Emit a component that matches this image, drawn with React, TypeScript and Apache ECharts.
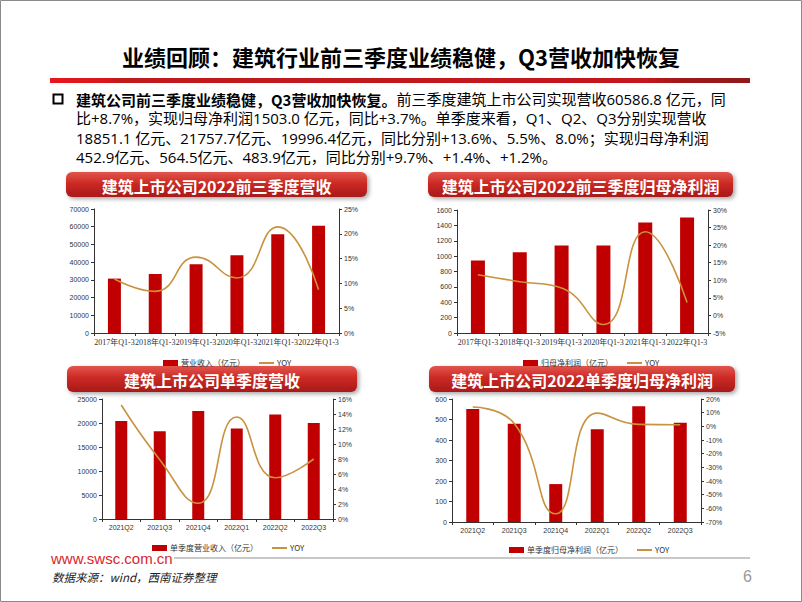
import React, { useEffect, useRef } from "react";
import * as echarts from "echarts";

const cumCats = ["2017年Q1-3", "2018年Q1-3", "2019年Q1-3", "2020年Q1-3", "2021年Q1-3", "2022年Q1-3"];
const cumRevenue = [30700, 33300, 38800, 43900, 55800, 60586.8];
const cumRevenueYoy = [10.9, 8.4, 15.3, 11.1, 21.4, 8.7];
const cumProfit = [943, 1051, 1137, 1137, 1436, 1503.0];
const cumProfitYoy = [11.6, 9.6, 7.8, -2.6, 23.8, 3.7];
const qCats = ["2021Q2", "2021Q3", "2021Q4", "2022Q1", "2022Q2", "2022Q3"];
const qRevenue = [20400, 18300, 22500, 18851.1, 21757.7, 19996.4];
const qRevenueYoy = [15.2, 7.9, 2.1, 13.6, 5.5, 8.0];
const qProfit = [551, 479, 185, 452.9, 564.5, 483.9];
const qProfitYoy = [14.1, 2.0, -64.0, 9.7, 1.4, 1.2];

const barNames = ["营业收入（亿元）", "归母净利润（亿元）", "单季度营业收入（亿元）", "单季度归母净利润（亿元）"];
const bannerTitles = [
  "建筑上市公司2022前三季度营收",
  "建筑上市公司2022前三季度归母净利润",
  "建筑上市公司单季度营收",
  "建筑上市公司2022单季度归母净利润",
];
const mainTitle = "业绩回顾：建筑行业前三季度业绩稳健，Q3营收加快恢复";
const bulletBold = "建筑公司前三季度业绩稳健，Q3营收加快恢复。";
const bulletLines = [
  "前三季度建筑上市公司实现营收60586.8 亿元，同",
  "比+8.7%，实现归母净利润1503.0 亿元，同比+3.7%。单季度来看，Q1、Q2、Q3分别实现营收",
  "18851.1 亿元、21757.7亿元、19996.4亿元，同比分别+13.6%、5.5%、8.0%；实现归母净利润",
  "452.9亿元、564.5亿元、483.9亿元，同比分别+9.7%、+1.4%、+1.2%。",
];
const footerUrl = "www.swsc.com.cn";
const footerSource = "数据来源：wind，西南证券整理";
const pageNo = "6";

const CJK = '"Noto Sans CJK SC", "Liberation Sans", sans-serif';
const BODY = '"Open Sans", "Noto Sans CJK SC", sans-serif';
const BAR = "#C00000";
const LINE = "#C9923E";

export default function App() {
  const ref = useRef<HTMLDivElement>(null);
  useEffect(() => {
    if (!ref.current) return;
    const chart = echarts.init(ref.current, undefined, { renderer: "svg" });

    const grids = [
      { left: 94, top: 209, width: 245, height: 124 },
      { left: 457, top: 210, width: 251, height: 123 },
      { left: 102, top: 399, width: 231, height: 120 },
      { left: 452, top: 399, width: 249, height: 123 },
    ];
    const cats = [cumCats, cumCats, qCats, qCats];
    const bars = [cumRevenue, cumProfit, qRevenue, qProfit];
    const lines = [cumRevenueYoy, cumProfitYoy, qRevenueYoy, qProfitYoy];
    const leftAx = [
      { min: 0, max: 70000, interval: 10000 },
      { min: 0, max: 1600, interval: 200 },
      { min: 0, max: 25000, interval: 5000 },
      { min: 0, max: 600, interval: 100 },
    ];
    const rightAx = [
      { min: 0, max: 25, interval: 5 },
      { min: -5, max: 30, interval: 5 },
      { min: 0, max: 16, interval: 2 },
      { min: -70, max: 20, interval: 10 },
    ];
    const barW = [13, 14, 12, 13];
    const legendPos = [
      { left: 158, top: 354 },
      { left: 518, top: 354 },
      { left: 147, top: 539 },
      { left: 504, top: 541 },
    ];

    const axisLine = { show: true, lineStyle: { color: "#333", width: 1 } };
    const axisTick = { show: true, length: 3, lineStyle: { color: "#333" } };

    const xAxis = cats.map((c, i) => ({
      type: "category",
      gridIndex: i,
      data: c,
      axisLine,
      axisTick: { ...axisTick, alignWithLabel: false, interval: 0 },
      axisLabel: {
        interval: 0,
        fontSize: i < 2 ? 8 : 7,
        color: "#333",
        margin: 5,
        fontFamily: i < 2 ? '"Liberation Serif", "Noto Sans CJK SC", serif' : '"Liberation Sans", sans-serif',
      },
    }));
    const yAxis: any[] = [];
    for (let i = 0; i < 4; i++) {
      yAxis.push({
        type: "value",
        gridIndex: i,
        position: "left",
        ...leftAx[i],
        axisLine,
        axisTick,
        splitLine: { show: false },
        axisLabel: {
          fontSize: 7,
          color: "#333",
          margin: 5,
          fontFamily: '"Liberation Sans", sans-serif',
          formatter: (v: number) => String(v),
        },
      });
      yAxis.push({
        type: "value",
        gridIndex: i,
        position: "right",
        ...rightAx[i],
        axisLine,
        axisTick,
        splitLine: { show: false },
        axisLabel: {
          fontSize: 7,
          color: "#333",
          margin: 5,
          formatter: (v: number) => `${v}%`,
          fontFamily: '"Liberation Sans", sans-serif',
        },
      });
    }
    const series: any[] = [];
    for (let i = 0; i < 4; i++) {
      series.push({
        type: "bar",
        name: barNames[i],
        xAxisIndex: i,
        yAxisIndex: 2 * i,
        data: bars[i],
        barWidth: barW[i],
        itemStyle: { color: BAR },
      });
      series.push({
        type: "line",
        name: "YOY",
        xAxisIndex: i,
        yAxisIndex: 2 * i + 1,
        data: lines[i],
        smooth: true,
        symbol: "none",
        showSymbol: false,
        lineStyle: { color: LINE, width: 1.6 },
        itemStyle: { color: LINE },
      });
    }
    const legend = legendPos.map((p, i) => ({
      ...p,
      orient: "horizontal",
      itemWidth: 15,
      itemHeight: 6,
      itemGap: 14,
      selectedMode: false,
      textStyle: { fontSize: 8, color: "#333", fontFamily: CJK, padding: [0, 0, 0, -2] },
      data: [
        { name: barNames[i], icon: "rect" },
        { name: "YOY", icon: "path://M0,0 L15,0 L15,2 L0,2 Z", itemStyle: { color: LINE } },
      ],
    }));

    const bannerBoxes = [
      { x: 66, y: 172, w: 301, h: 25 },
      { x: 428, y: 172, w: 305, h: 25 },
      { x: 67, y: 366, w: 290, h: 26 },
      { x: 429, y: 366, w: 306, h: 26 },
    ];
    const banners = bannerBoxes.map((b, i) => ({
      type: "group",
      children: [
        {
          type: "rect",
          shape: { x: b.x, y: b.y, width: b.w, height: b.h, r: 6 },
          style: {
            fill: new echarts.graphic.LinearGradient(0, 0, 0, 1, [
              { offset: 0, color: "#e2554e" },
              { offset: 0.45, color: "#cc2a24" },
              { offset: 1, color: "#a8191a" },
            ]),
            shadowBlur: 4,
            shadowOffsetX: 2,
            shadowOffsetY: 2,
            shadowColor: "rgba(0,0,0,0.35)",
          },
        },
        {
          type: "text",
          x: b.x + b.w / 2,
          y: b.y + b.h / 2 + 1,
          style: {
            text: bannerTitles[i],
            fill: "#fff",
            font: `bold 16px ${CJK}`,
            textAlign: "center",
            textVerticalAlign: "middle",
          },
        },
      ],
    }));

    const lineYs = [99, 118.3, 137.7, 157];
    const bulletTexts = bulletLines.map((t, i) => ({
      type: "text",
      x: 76,
      y: lineYs[i],
      style: {
        text: i === 0 ? `{b|${bulletBold}}{n|${t}}` : t,
        fill: "#000",
        font: `15px ${BODY}`,
        lineHeight: 18,
        textVerticalAlign: "middle",
        rich: {
          b: { fontWeight: "bold", fontSize: 15, fontFamily: CJK, fill: "#000", lineHeight: 18 },
          n: { fontSize: 15, fontFamily: BODY, fill: "#000", lineHeight: 18 },
        },
      },
    }));

    const graphic: any[] = [
      { type: "rect", shape: { x: 0.5, y: 0.5, width: 801, height: 601 }, style: { fill: "none", stroke: "#8a8a8a", lineWidth: 1 } },
      {
        type: "text",
        x: 401,
        y: 56,
        style: { text: mainTitle, fill: "#000", font: `bold 22px ${CJK}`, textAlign: "center", textVerticalAlign: "middle" },
      },
      {
        type: "rect",
        shape: { x: 50, y: 78, width: 700, height: 5 },
        style: {
          fill: new echarts.graphic.LinearGradient(0, 0, 1, 0, [
            { offset: 0, color: "#e8161e" },
            { offset: 0.08, color: "#d8161c" },
            { offset: 0.1, color: "#bf1a1c" },
            { offset: 0.85, color: "#c4161c" },
            { offset: 0.9, color: "#a01818" },
            { offset: 1, color: "#8e1a1a" },
          ]),
        },
      },
      { type: "rect", shape: { x: 53.5, y: 94.5, width: 9, height: 9 }, style: { fill: "none", stroke: "#000", lineWidth: 2 } },
      ...bulletTexts,
      ...banners,
      {
        type: "text",
        x: 51,
        y: 558,
        style: { text: footerUrl, fill: "#d9262c", font: '15px "Liberation Sans", Arial, sans-serif', textVerticalAlign: "middle" },
      },
      { type: "line", shape: { x1: 174, y1: 558, x2: 750, y2: 558 }, style: { stroke: "#c8c8c8", lineWidth: 2 } },
      {
        type: "text",
        x: 52,
        y: 577,
        style: { text: footerSource, fill: "#222", font: `italic 11.5px ${CJK}`, textVerticalAlign: "middle" },
      },
      {
        type: "text",
        x: 752,
        y: 576,
        style: { text: pageNo, fill: "#9a9a9a", font: '16px "Liberation Sans", sans-serif', textAlign: "right", textVerticalAlign: "middle" },
      },
    ];

    chart.setOption({
      animation: false,
      backgroundColor: "#fff",
      grid: grids,
      xAxis,
      yAxis,
      series,
      legend,
      graphic,
    });
    return () => chart.dispose();
  }, []);
  return (
    <div style={{ position: "fixed", left: 0, top: 0, width: 802, height: 602, background: "#fff" }}>
      <div ref={ref} style={{ width: 802, height: 602 }} />
    </div>
  );
}
